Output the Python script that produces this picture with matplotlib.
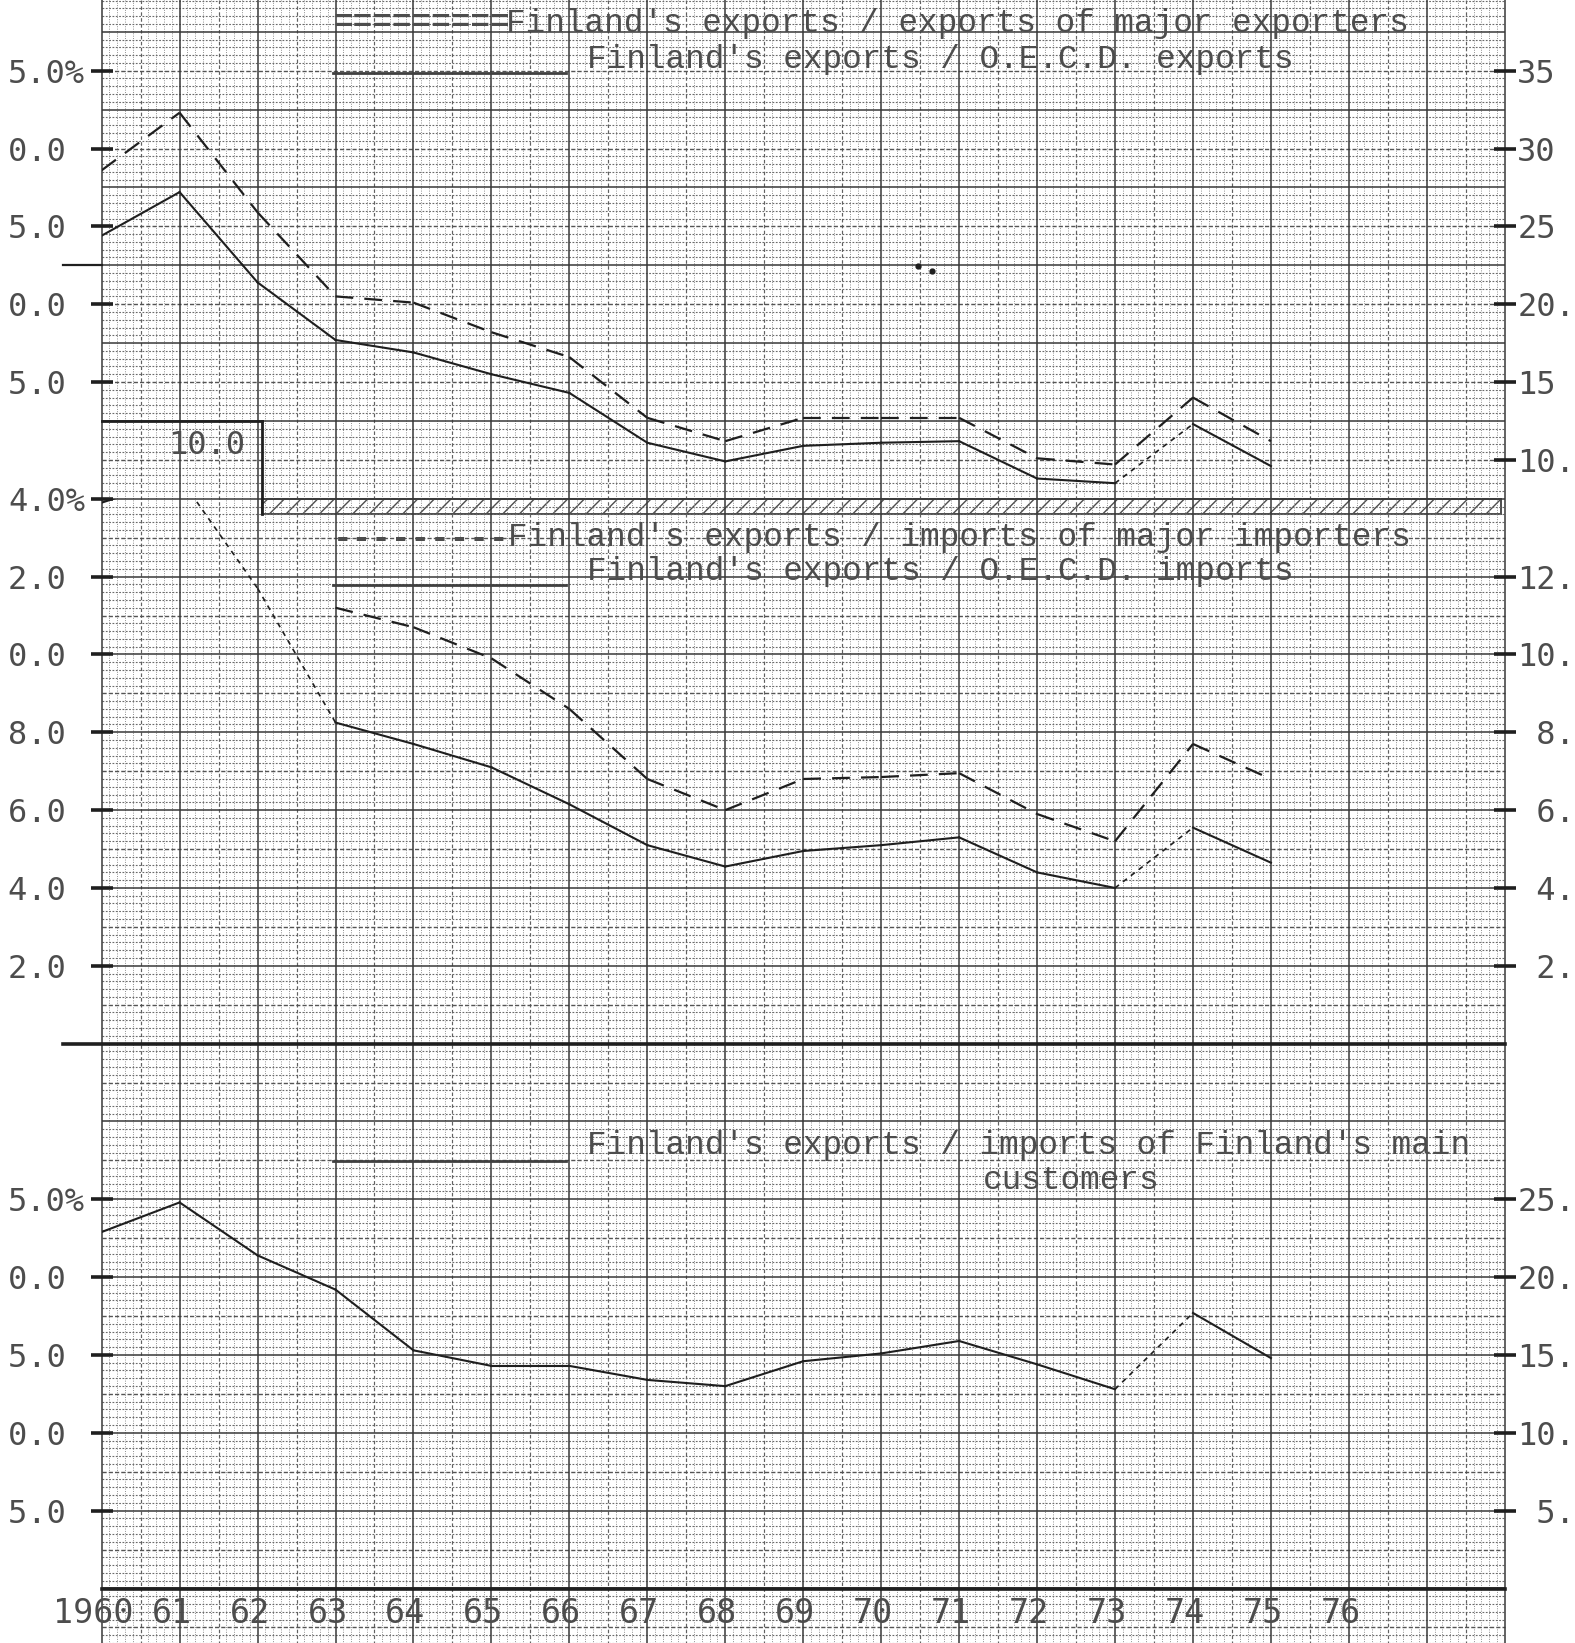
import matplotlib
matplotlib.use("Agg")
import numpy as np
import matplotlib.pyplot as plt
import matplotlib.transforms as mtransforms
from matplotlib.collections import LineCollection
from matplotlib.patches import Rectangle

# --- data ---
years = list(range(1960, 1976))
year_ticks = list(range(1960, 1977))
year_labels = ["1960"] + [str(y)[2:] for y in year_ticks[1:]]

# Finland's exports / exports of major exporters, and / O.E.C.D. exports
exp_major = [28.6, 32.3, 25.9, 20.5, 20.1, 18.2, 16.6, 12.7, 11.2, 12.7, 12.7, 12.7, 10.1, 9.7, 14.0, 11.2]
exp_oecd = [24.4, 27.2, 21.4, 17.7, 16.9, 15.5, 14.3, 11.1, 9.9, 10.9, 11.1, 11.2, 8.8, 8.5, 12.3, 9.6]

# Finland's exports / imports of major importers, and / O.E.C.D. imports
imp_years = list(range(1963, 1976))
imp_major = [11.2, 10.7, 9.9, 8.6, 6.8, 6.0, 6.8, 6.85, 6.95, 5.9, 5.2, 7.7, 6.8]
imp_oecd = [13.9, 14.55, 11.7, 8.25, 7.7, 7.1, 6.15, 5.1, 4.55, 4.95, 5.1, 5.3, 4.4, 4.0, 5.55, 4.65]

# Finland's exports / imports of Finland's main customers
main_cust = [22.9, 24.8, 21.4, 19.2, 15.3, 14.3, 14.3, 13.4, 13.0, 14.6, 15.1, 15.9, 14.4, 12.8, 17.7, 14.8]

# segments (starting year) drawn with a fine broken line
exp_oecd_broken = [1973]
imp_oecd_broken = [1961, 1962, 1973]
main_cust_broken = [1973]

# tick labels as they survive on the trimmed scan
top_lticks, top_llabels = [35, 30, 25, 20, 15], ["5.0%", "0.0 ", "5.0 ", "0.0 ", "5.0 "]
top_rticks, top_rlabels = [35, 30, 25, 20, 15, 10], ["35", "30", "25", "20.", "15", "10."]
mid_lticks, mid_llabels = [14, 12, 10, 8, 6, 4, 2], ["4.0%", "2.0 ", "0.0 ", "8.0 ", "6.0 ", "4.0 ", "2.0 "]
mid_rticks, mid_rlabels = [12, 10, 8, 6, 4, 2], ["12.", "10.", " 8.", " 6.", " 4.", " 2."]
low_lticks, low_llabels = [25, 20, 15, 10, 5], ["5.0%", "0.0 ", "5.0 ", "0.0 ", "5.0 "]
low_rticks, low_rlabels = [25, 20, 15, 10, 5], ["25.", "20.", "15.", "10.", " 5."]

INK = "0.12"
TXT = "0.3"
MONO = "DejaVu Sans Mono"
TYPE = "Liberation Mono"

plt.rcParams["hatch.linewidth"] = 1.0

W, H = 1503.0, 1568.0
fig = plt.figure(figsize=(15.75, 16.43), dpi=100)

# background: the graph paper, in picture pixels
bg = fig.add_axes([0, 0, 1, 1])
bg.set_xlim(0, W)
bg.set_ylim(H, 0)
bg.axis("off")

x0, x1 = 97.0, 1436.0
cmx = (x1 - x0) / 18.0
y_ref, cmy = 476.0, 74.28

groups = {"major": [], "half": [], "mm": []}
for i in range(181):
    x = x0 + i * cmx / 10
    key = "major" if i % 10 == 0 else ("half" if i % 5 == 0 else "mm")
    groups[key].append([(x, 0), (x, H)])
hgroups = {"major": [], "half": [], "mm": []}
for j in range(-64, 148):
    y = y_ref + j * cmy / 10
    key = "major" if j % 10 == 0 else ("half" if j % 5 == 0 else "mm")
    hgroups[key].append([(x0, y), (x1, y)])

bg.add_collection(LineCollection(groups["mm"], colors="0.5", linewidths=0.65, linestyles=(0, (1, 1.6))))
bg.add_collection(LineCollection(hgroups["mm"], colors="0.42", linewidths=0.8, linestyles=(0, (1.6, 1.4))))
bg.add_collection(LineCollection(groups["half"], colors="0.38", linewidths=0.85, linestyles=(0, (3, 2))))
bg.add_collection(LineCollection(hgroups["half"], colors="0.33", linewidths=1.0, linestyles=(0, (3, 1.5))))
bg.add_collection(LineCollection(groups["major"] + hgroups["major"], colors="0.22", linewidths=1.1))

# heavy dividers and the pasted-in boxes
bg.plot([60, x1], [996, 996], color=INK, lw=2.6)
bg.plot([x0, x1], [1516, 1516], color=INK, lw=2.6)
bg.plot([60, x0], [253, 253], color=INK, lw=1.6)
bg.plot([x0, 250], [402, 402], color=INK, lw=2.0)
bg.plot([250, 250], [402, 491], color=INK, lw=2.0)
bg.add_patch(Rectangle((250, 476), x1 - 250 - 4, 15, fill=False, hatch="//",
                       edgecolor="0.3", lw=1.4))
bg.plot([876, 889], [254, 259], ls="none", marker="o", ms=3.5, color=INK)

# legends (typed)
leg_kw = dict(family=TYPE, fontsize=23.5, color=TXT, va="center", ha="left")
bg.text(318, 22, "=========", fontweight="bold", **leg_kw)
bg.text(483, 22, "Finland's exports / exports of major exporters", **leg_kw)
bg.plot([318, 540], [70, 70], color="0.25", lw=2.0)
bg.text(560, 57, "Finland's exports / O.E.C.D. exports", **leg_kw)

bg.text(318, 515, "---------", fontweight="bold", **leg_kw)
bg.text(485, 513, "Finland's exports / imports of major importers", **leg_kw)
bg.plot([318, 540], [558, 558], color="0.25", lw=2.0)
bg.text(560, 545, "Finland's exports / O.E.C.D. imports", **leg_kw)

bg.plot([318, 540], [1108, 1108], color="0.25", lw=2.0)
bg.text(560, 1093, "Finland's exports / imports of Finland's main", **leg_kw)
bg.text(938, 1127, "customers", **leg_kw)


def panel(top_px, bottom_px, ylim):
    ax = fig.add_axes([x0 / W, 1 - bottom_px / H, (x1 - x0) / W, (bottom_px - top_px) / H])
    ax.patch.set_alpha(0)
    ax.set_xlim(1960, 1978)
    ax.set_ylim(*ylim)
    for s in ax.spines.values():
        s.set_visible(False)
    ax.tick_params(axis="x", bottom=False, labelbottom=False)
    return ax


def y_axes(ax, lticks, llabels, rticks, rlabels):
    ax.set_yticks(lticks, llabels, family=MONO, fontsize=23, color=TXT)
    ax.tick_params(axis="y", direction="inout", length=16, width=2.6, color=INK, pad=4)
    axr = ax.twinx()
    axr.set_ylim(ax.get_ylim())
    for s in axr.spines.values():
        s.set_visible(False)
    axr.set_yticks(rticks, rlabels, family=MONO, fontsize=23, color=TXT)
    axr.tick_params(axis="y", direction="inout", length=16, width=2.6, color=INK, pad=1)


def series(ax, xs, ys, dashed=False, broken=()):
    for i in range(len(xs) - 1):
        sx, sy = xs[i:i + 2], ys[i:i + 2]
        if xs[i] in broken:
            ax.plot(sx, sy, color=INK, lw=1.2, dashes=(3, 3))
        elif dashed:
            ax.plot(sx, sy, color=INK, lw=1.6, dashes=(8, 5))
        else:
            ax.plot(sx, sy, color=INK, lw=1.5)


ax_top = panel(0, 476, (7.5, 39.54))
y_axes(ax_top, top_lticks, top_llabels, top_rticks, top_rlabels)
series(ax_top, years, exp_major, dashed=True)
series(ax_top, years, exp_oecd, broken=exp_oecd_broken)
ax_top.text(1960.85, 10.9, "10.0", family=MONO, fontsize=23, color=TXT, va="center", ha="left")

ax_mid = panel(476, 996, (0, 14))
y_axes(ax_mid, mid_lticks, mid_llabels, mid_rticks, mid_rlabels)
series(ax_mid, imp_years, imp_major, dashed=True)
series(ax_mid, years, imp_oecd, broken=imp_oecd_broken)

ax_low = panel(996, 1516, (0, 35))
y_axes(ax_low, low_lticks, low_llabels, low_rticks, low_rlabels)
series(ax_low, years, main_cust, broken=main_cust_broken)
ax_low.set_xticks(year_ticks, year_labels, family=MONO, fontsize=24, color=TXT)
ax_low.tick_params(axis="x", bottom=True, labelbottom=True, length=0, pad=6)
shift = mtransforms.ScaledTranslation(-8 / 100, 0, fig.dpi_scale_trans)
for lab in ax_low.get_xticklabels():
    lab.set_transform(lab.get_transform() + shift)

fig.savefig("out.png", dpi=100)
